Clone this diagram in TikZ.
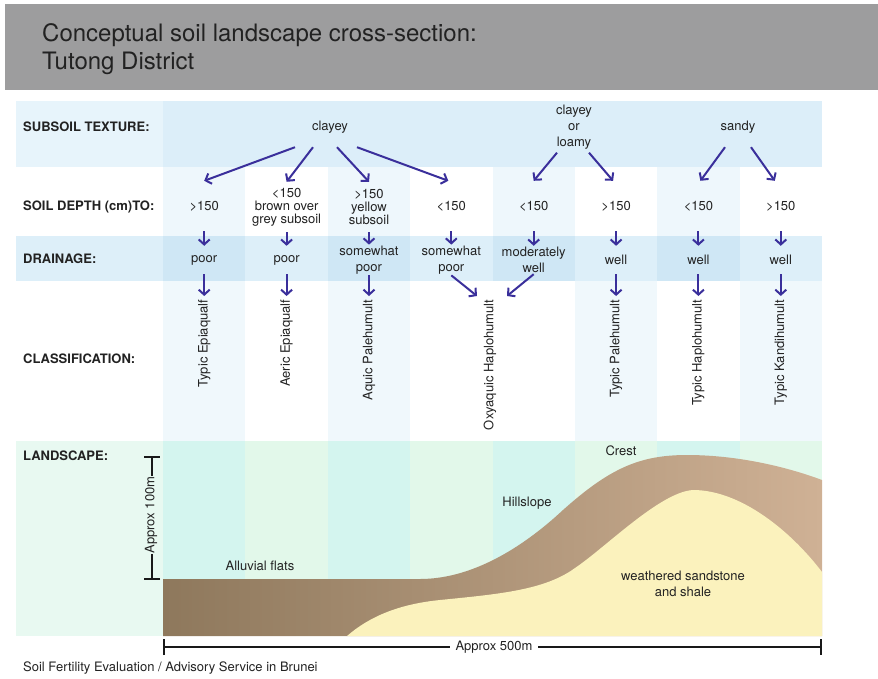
\documentclass[tikz,border=0pt]{standalone}
\usepackage{fontspec}
\setmainfont{TeX Gyre Heros}
\usetikzlibrary{arrows.meta}

\definecolor{titlegrey}{HTML}{9D9D9E}
\definecolor{ink}{HTML}{222222}
\definecolor{texlight}{HTML}{E7F4FB}
\definecolor{texmain}{HTML}{DCEEF9}
\definecolor{depthlight}{HTML}{EEF7FC}
\definecolor{drainlight}{HTML}{DDEFF9}
\definecolor{draindark}{HTML}{CFE7F5}
\definecolor{classlight}{HTML}{F0F8FC}
\definecolor{landleft}{HTML}{E8F9F1}
\definecolor{landcyan}{HTML}{D4F5EF}
\definecolor{landgreen}{HTML}{E2F8EA}
\definecolor{arrowblue}{HTML}{3A2F9B}
\definecolor{brownleft}{HTML}{8E785C}
\definecolor{brownright}{HTML}{CFB195}
\definecolor{sandstone}{HTML}{FBF2BD}

\begin{document}
\begin{tikzpicture}[x=1pt,y=-1pt,
		txt/.style={text=ink,font=\fontsize{13}{16}\selectfont,align=center},
		rowlabel/.style={anchor=west,inner sep=0pt,text=ink,font=\fontsize{13}{16}\selectfont\bfseries},
		depthcell/.style={txt,minimum height=50pt,font=\fontsize{13}{13}\selectfont},
		draincell/.style={txt,minimum height=28pt,inner ysep=1pt},
		soilname/.style={txt,rotate=90,anchor=east},
		link/.style={draw=arrowblue,line width=2pt,-{Straight Barb[length=5pt,width=11pt]}},
		scalebar/.style={draw=black!90,line width=1.6pt,{Bar[width=16pt]}-{Bar[width=16pt]}}]
		\useasboundingbox (0,0) rectangle (878,678);

		% Title band
		\fill[titlegrey] (5,4) rectangle (878,90);
		\node[anchor=west,inner sep=0pt,align=left,text=ink,font=\fontsize{24}{28}\selectfont]
			(title) at (42,49) {Conceptual soil landscape cross-section:\\Tutong District};

		% Row backgrounds
		\fill[texlight] (16,101) rectangle (163,167);
		\fill[texmain] (163,101) rectangle (822,167);
		\foreach \i in {0,2,4,6}
			\fill[depthlight] ({163+82.375*\i},167) rectangle ({245.375+82.375*\i},236);
		\fill[drainlight] (16,236) rectangle (822,281);
		\foreach \i in {0,2,4,6}
			\fill[draindark] ({163+82.375*\i},236) rectangle ({245.375+82.375*\i},281);
		\foreach \i in {0,2,5,7}
			\fill[classlight] ({163+82.375*\i},281) rectangle ({245.375+82.375*\i},441);
		\fill[landleft] (16,441) rectangle (163,636);
		\foreach \i in {0,2,4,6}
			\fill[landcyan] ({163+82.375*\i},441) rectangle ({245.375+82.375*\i},636);
		\foreach \i in {1,3,5,7}
			\fill[landgreen] ({163+82.375*\i},441) rectangle ({245.375+82.375*\i},636);

		% Cross-section: soil mantle over bedrock
		\shade[left color=brownleft,right color=brownright]
			(163,579) -- (420,579) .. controls (470,579) and (520,550) .. (563,510)
			.. controls (610,468) and (640,455) .. (687,455)
			.. controls (740,455) and (790,468) .. (822,480)
			-- (822,636) -- (163,636) -- cycle;
		\fill[sandstone]
			(347,636) .. controls (370,616) and (400,604) .. (440,600)
			.. controls (500,594) and (545,590) .. (575,568)
			.. controls (605,548) and (660,492) .. (693,490)
			.. controls (740,490) and (790,530) .. (822,572)
			-- (822,636) -- cycle;

		% Row labels
		\node[rowlabel] (lbltexture) at (23,127) {SUBSOIL TEXTURE:};
		\node[rowlabel] (lbldepth) at (23,207) {SOIL DEPTH (cm)TO:};
		\node[rowlabel] (lbldrain) at (23,259) {DRAINAGE:};
		\node[rowlabel] (lblclass) at (23,359) {CLASSIFICATION:};
		\node[rowlabel] (lblland) at (23,456) {LANDSCAPE:};

		% Subsoil texture
		\node[txt,minimum height=40pt] (clayey) at (330,127) {clayey};
		\node[txt] (clayloam) at (574,127) {clayey\\or\\loamy};
		\node[txt,minimum height=40pt] (sandy) at (738,127) {sandy};

		% Soil depth
		\node[depthcell] (d1) at (204.2,206) {>150};
		\node[depthcell] (d2) at (286.6,207) {<150\\brown over\\grey subsoil};
		\node[depthcell] (d3) at (369,207) {>150\\yellow\\subsoil};
		\node[depthcell] (d4) at (451.3,206) {<150};
		\node[depthcell] (d5) at (533.7,206) {<150};
		\node[depthcell] (d6) at (616.1,206) {>150};
		\node[depthcell] (d7) at (698.4,206) {<150};
		\node[depthcell] (d8) at (780.8,206) {>150};

		% Drainage
		\node[draincell] (r1) at (204.2,260) {poor};
		\node[draincell] (r2) at (286.6,260) {poor};
		\node[draincell] (r3) at (369,260) {somewhat\\poor};
		\node[draincell] (r4) at (451.3,260) {somewhat\\poor};
		\node[draincell] (r5) at (533.7,260) {moderately\\well};
		\node[draincell] (r6) at (616.1,260) {well};
		\node[draincell] (r7) at (698.4,260) {well};
		\node[draincell] (r8) at (780.8,260) {well};

		% Classification
		\node[soilname] (c1) at (204.2,296) {Typic Epiaqualf};
		\node[soilname] (c2) at (286.6,296) {Aeric Epiaqualf};
		\node[soilname] (c3) at (369,296) {Aquic Palehumult};
		\node[soilname] (c45) at (490,296) {Oxyaquic Haplohumult};
		\node[soilname] (c6) at (616.1,296) {Typic Palehumult};
		\node[soilname] (c7) at (698.4,296) {Typic Haplohumult};
		\node[soilname] (c8) at (780.8,296) {Typic Kandihumult};

		% Arrows
		\draw[link] ([xshift=-35pt]clayey.south) -- (d1.north);
		\draw[link] ([xshift=-17pt]clayey.south) -- (d2.north);
		\draw[link] ([xshift=7pt]clayey.south) -- (d3.north);
		\draw[link] ([xshift=27pt]clayey.south) -- ([xshift=-3pt]d4.north);
		\draw[link] ([xshift=-17pt]clayloam.south) -- (d5.north);
		\draw[link] ([xshift=15pt]clayloam.south) -- ([xshift=-3pt]d6.north);
		\draw[link] ([xshift=-13pt]sandy.south) -- ([xshift=2pt]d7.north);
		\draw[link] ([xshift=13pt]sandy.south) -- ([xshift=-6pt]d8.north);
		\foreach \n in {1,...,8}
			\draw[link] (d\n.south) -- (r\n.north);
		\foreach \n in {1,2,3,6,7,8}
			\draw[link] (r\n.south) -- (c\n.east);
		\draw[link] (r4.south) -- ([xshift=-13pt]c45.east);
		\draw[link] (r5.south) -- ([xshift=17pt]c45.east);

		% Landscape labels
		\node[txt] (alluvial) at (260,566) {Alluvial flats};
		\node[txt] (hillslope) at (527,503) {Hillslope};
		\node[txt] (crest) at (621,451) {Crest};
		\node[txt] (bedrock) at (683,584) {weathered sandstone\\and shale};

		% Scale bars
		\coordinate (vtop) at (152,456);
		\coordinate (vbot) at (152,580);
		\draw[scalebar] (vtop) -- (vbot);
		\node[txt,rotate=90,fill=landleft,inner sep=1pt] (height) at (151,515) {Approx 100m};
		\coordinate (hleft) at (163,647);
		\coordinate (hright) at (822,647);
		\draw[scalebar] (hleft) -- (hright);
		\node[txt,fill=white,inner xsep=6pt,inner ysep=1pt] (width) at (494,647) {Approx 500m};

		\node[txt,anchor=west,inner sep=0pt] (credit) at (23,668)
			{Soil Fertility Evaluation / Advisory Service in Brunei};
	\end{tikzpicture}
\end{document}
